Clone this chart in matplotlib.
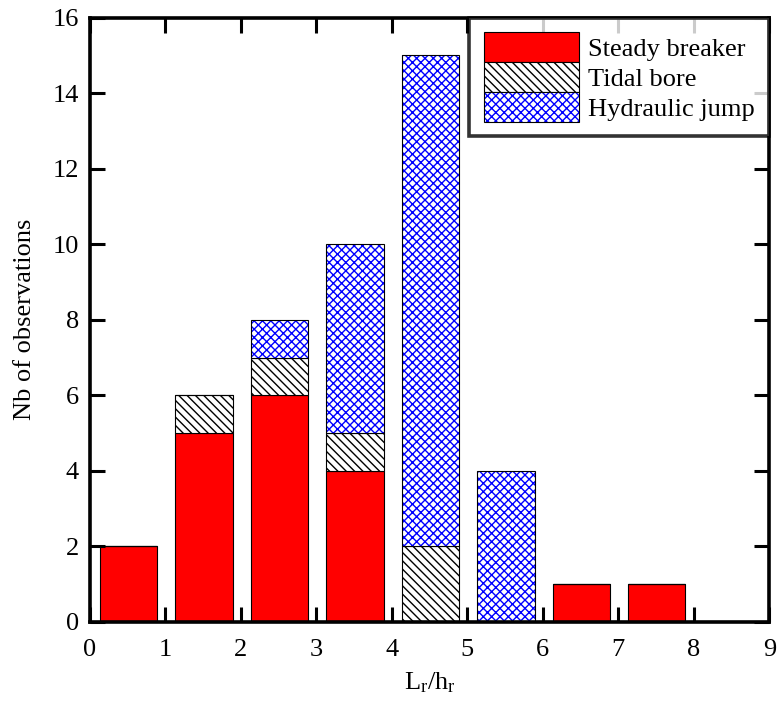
import matplotlib
matplotlib.use('Agg')
import matplotlib.pyplot as plt
import numpy as np
from matplotlib.patches import Patch

plt.rcParams['font.family'] = 'Liberation Serif'
plt.rcParams['mathtext.fontset'] = 'custom'
plt.rcParams['mathtext.rm'] = 'Liberation Serif'
plt.rcParams['hatch.linewidth'] = 1.0

bins = [0, 1, 2, 3, 4, 5, 6, 7]
steady = [2, 5, 6, 4, 0, 0, 1, 1]
tidal = [0, 1, 1, 1, 2, 0, 0, 0]
jump = [0, 0, 1, 5, 13, 4, 0, 0]
labels = ['Steady breaker', 'Tidal bore', 'Hydraulic jump']

x = np.array(bins) + 0.51
w = 0.76
fs = 19
tidal_hatch = '\\\\\\\\'

fig = plt.figure(figsize=(7.79, 7.02), dpi=100)
ax = fig.add_axes([0.1155, 0.114, 0.872, 0.861])

steady = np.array(steady)
tidal = np.array(tidal)
jump = np.array(jump)

# red part
ax.bar(x, steady, w, color='#ff0000', edgecolor='black', linewidth=0.8)
# tidal bore - black hatch
ax.bar(x, tidal, w, bottom=steady, color='white', edgecolor='black',
       linewidth=0.8, hatch=tidal_hatch)
# hydraulic jump - blue hatch, then black outline on top
ax.bar(x, jump, w, bottom=steady + tidal, color='white', edgecolor='#0000ff',
       linewidth=0, hatch='xxxx')
ax.bar(x, jump, w, bottom=steady + tidal, fill=False, edgecolor='black',
       linewidth=0.8)

ax.set_xlim(0, 9)
ax.set_ylim(0, 16)
ax.set_xticks(range(0, 10))
ax.set_yticks(range(0, 17, 2))
ax.tick_params(direction='in', length=11, width=2.2, labelsize=fs,
               top=True, right=True)
ax.tick_params(axis='x', pad=12)
ax.tick_params(axis='y', pad=8)
for s in ax.spines.values():
    s.set_linewidth(2.6)

ax.set_xlabel(r'$\mathregular{L_r/h_r}$', fontsize=fs, labelpad=7)
ax.set_ylabel('Nb of observations', fontsize=fs, labelpad=12)

h1 = Patch(facecolor='#ff0000', edgecolor='black', linewidth=0.8)
h2 = Patch(facecolor='white', edgecolor='black', linewidth=0.8, hatch=tidal_hatch)
h3 = (Patch(facecolor='white', edgecolor='#0000ff', linewidth=0, hatch='xxxx'),
      Patch(fill=False, edgecolor='black', linewidth=0.8))
leg = ax.legend([h1, h2, h3], labels, loc='upper right', fontsize=fs,
                frameon=True, fancybox=False, borderaxespad=0,
                labelspacing=0, handlelength=3.6, handleheight=1.37,
                handletextpad=0.35, borderpad=0.55)
leg.get_frame().set_edgecolor('black')
leg.get_frame().set_linewidth(2.6)

fig.savefig('out.png', dpi=100)
